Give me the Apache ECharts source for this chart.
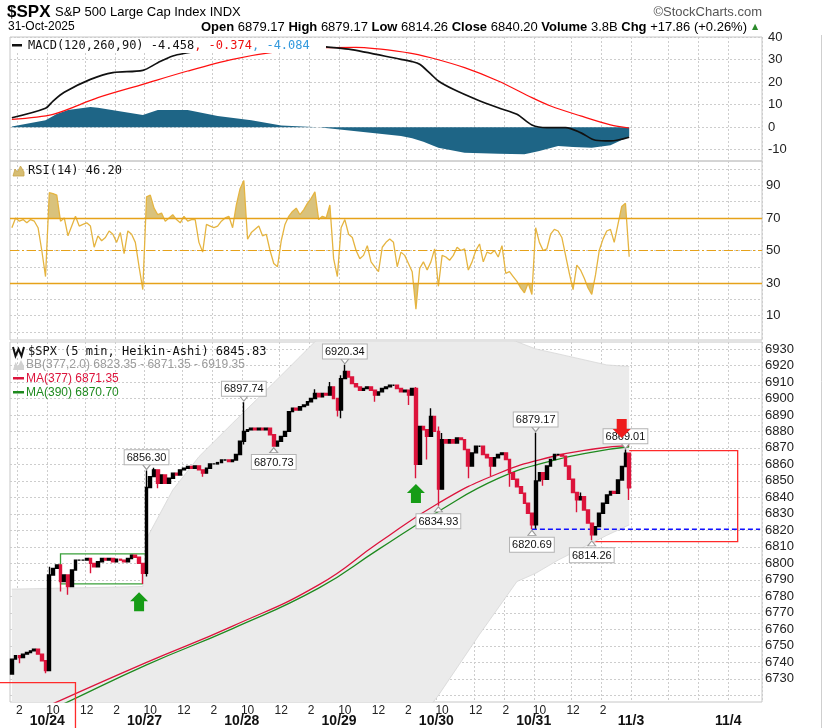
<!DOCTYPE html>
<html>
<head>
<meta charset="utf-8">
<title>$SPX S&amp;P 500 Large Cap Index</title>
<script src="https://cdn.jsdelivr.net/npm/echarts@6.0.0/dist/echarts.min.js"></script>
<style>
html,body{margin:0;padding:0;background:#fff;}
#chart{width:824px;height:728px;}
</style>
</head>
<body>
<div id="chart"></div>
<script>
// ================= DATA =================
const sessionDays = ['10/23','10/24','10/27','10/28','10/29','10/30','10/31','11/3','11/4'];
const axisStart = '10/23 13:30';
const axisEnd = '11/4 11:30';
const splitTimes = ['09:30','12:00','14:00'];
const timeTickLabels = {'09:45':'10','12:00':'12','14:00':'2'};

const priceTicks = [6720,6730,6740,6750,6760,6770,6780,6790,6800,6810,6820,6830,6840,6850,6860,6870,6880,6890,6900,6910,6920,6930];
const priceTickLabels = [6730,6740,6750,6760,6770,6780,6790,6800,6810,6820,6830,6840,6850,6860,6870,6880,6890,6900,6910,6920,6930];
const macdTicks = [-10,0,10,20,30,40];
const rsiTicks = [0,10,20,30,40,50,60,70,80,90,100];
const rsiTickLabels = [10,30,50,70,90];

// Heikin-Ashi 15-min closes
const firstOpen = 6733;
const close1023 = [6742,6744,6743,6745,6746,6747,6748,6745,6741,6735];
const close1024 = [6793,6797,6799,6789,6793,6786,6796,6802,6802,6802,6803,6800,6798,6801,6803,6802,6803,6801,6802.5,6802,6801,6803,6805,6803.7,6800,6794];
const close1027 = [6846,6852.6,6856.7,6848.6,6853.6,6848.6,6851.6,6854.7,6853.6,6856.7,6857.7,6858.7,6857.7,6859.1,6856.7,6854.7,6857.7,6860.3,6860.3,6861.1,6862.7,6862.7,6861.7,6862.7,6866,6874];
const close1028 = [6880,6881,6882,6881,6882,6881,6882,6878,6871.2,6874,6877,6880,6892,6894,6893,6895,6896,6898,6900,6903,6901,6903,6902,6907,6900,6893];
const close1029 = [6912,6916.3,6913,6909,6907,6905,6906,6907,6905,6902,6904,6906,6907,6908,6908,6906,6904,6905,6902,6906,6860,6883,6881,6877,6889,6880];
const close1030 = [6845,6875,6873,6875,6873,6876,6875,6869,6859,6867,6871,6871,6866,6864,6859,6864,6866,6867,6863,6855,6851,6846.5,6842.5,6836.5,6830.4,6823.4];
const close1031 = [6850,6855,6851,6859,6863,6866,6866,6865,6859,6851,6843,6838.5,6840.5,6832.4,6824.4,6817.3,6822.3,6830.4,6836.5,6841.5,6843.6,6842.5,6850.6,6858.7,6866.8,6845.83];

// wick extremes [time, low, high]
const wickExtremes = [
  ['10/23 14:00',6739.5,null],['10/23 15:45',6733.5,null],
  ['10/24 09:30',6735,6798],['10/24 10:15',6783,null],['10/24 10:45',6781,null],['10/24 12:15',6794,null],['10/24 15:45',6787.5,null],
  ['10/27 09:30',6792,6856.30],['10/27 10:00',null,6858],['10/27 10:15',6845.5,null],['10/27 13:15',6852.6,null],
  ['10/28 09:30',6872,6897.74],['10/28 11:30',6870.73,null],['10/28 14:15',null,6905.5],['10/28 15:15',null,6910],['10/28 15:45',6889,null],
  ['10/29 09:30',6888,6914],['10/29 09:45',null,6920.34],['10/29 11:45',6898,null],['10/29 14:00',6896,null],['10/29 14:30',6851.6,6907],['10/29 15:15',6863,null],['10/29 15:30',null,6894],
  ['10/30 09:30',6834.93,6883],['10/30 09:45',6848,6879],['10/30 11:30',6851.6,null],['10/30 13:00',6853,null],['10/30 14:15',6846.5,null],['10/30 15:45',6820.69,null],
  ['10/31 09:30',6821,6879.17],['10/31 10:00',6847,null],['10/31 12:15',6831,null],['10/31 12:30',null,6843],['10/31 13:15',6814.26,null],['10/31 15:30',null,6869.01],['10/31 15:45',6838.5,null]
];

// RSI(14) sampled every 15 min
const rsi1023 = [64,70,68,69,67,69,68,64,50,34];
const rsi1024 = [85.5,85,84,68,70,59,65,71,65,66,67,65,52,59,56,58,62,60,55,61,48,62,60,55,40,26];
const rsi1027 = [83,84,76,72,73,68,70,72,69,67,71,68,69,69,55,49,66,65,64,65,68,70,71,64,78,88];
const rsi1028 = [93,57,61,63,65,59,60,50,42,40,56,66,71,74,76,72,75,79,82,86,69,71,70,78,45,34];
const rsi1029 = [64,69,60,58,50,45,47,53,43,40,37,52,55,57,55,40,49,47,42,37,14,39,43,38,43,51];
const rsi1030 = [28,47,46,44,47,52,50,51,38,43,50,54,43,49,48,50,46,53,36,37,34,31,27,24,30,23];
const rsi1031 = [64,55,50,51,60,63,62,58,47,36,26,41,38,33,27,23,35,50,57,62,63,55,66,77,79,46.2];

// MACD(120,260,90)
const macdLine = [['10/23 13:30',4.2],['10/23 15:45',8.4],['10/24 09:45',11.6],['10/24 10:30',15.5],['10/24 12:15',21.2],['10/24 13:45',24.2],['10/24 15:45',25.2],['10/27 10:15',28.6],['10/27 11:15',31.6],['10/27 12:15',33.0],['10/27 14:15',35.5],['10/28 10:00',37.0],['10/28 12:00',37.2],['10/28 15:00',35.6],['10/29 10:00',34.6],['10/29 13:30',30.1],['10/29 14:15',29.1],['10/29 14:45',27.9],['10/29 15:30',23.5],['10/30 09:30',20.5],['10/30 10:30',16.8],['10/30 12:00',12.4],['10/30 13:30',8.6],['10/30 14:45',5.7],['10/30 15:45',1.0],['10/31 10:15',-0.2],['10/31 11:30',-0.2],['10/31 12:30',-2.4],['10/31 13:30',-5.8],['10/31 14:30',-6.1],['10/31 15:45',-4.458]];
const macdSignal = [['10/23 13:30',3.5],['10/24 09:45',5.7],['10/24 12:45',13.1],['10/24 15:45',19.0],['10/27 12:15',24.9],['10/27 15:15',30.1],['10/28 11:45',33.5],['10/28 15:00',35.3],['10/29 10:30',35.4],['10/29 14:00',33.0],['10/29 15:30',30.8],['10/30 11:15',26.4],['10/30 13:30',20.5],['10/30 15:45',13.1],['10/31 10:30',9.4],['10/31 12:30',5.0],['10/31 14:30',1.0],['10/31 15:45',-0.374]];
const macdHist = [['10/23 13:30',0.3],['10/23 15:45',3.1],['10/24 10:00',5.9],['10/24 10:45',7.6],['10/24 12:15',9.0],['10/24 12:45',8.6],['10/24 15:45',5.4],['10/27 10:15',7.6],['10/27 12:15',7.6],['10/27 14:15',5.0],['10/28 10:00',3.1],['10/28 12:00',0.8],['10/28 14:30',0.0],['10/28 15:45',-0.9],['10/29 13:30',-3.9],['10/29 14:15',-4.9],['10/29 15:00',-6.5],['10/30 09:30',-9.1],['10/30 11:15',-11.3],['10/30 13:30',-11.8],['10/30 15:15',-12.0],['10/31 09:45',-10.6],['10/31 11:00',-8.3],['10/31 12:00',-8.8],['10/31 13:15',-9.1],['10/31 14:30',-8.0],['10/31 15:45',-4.084]];

// Bollinger Bands (377, 2.0)
const bbTimes = ['10/23 13:30','10/24 15:45','10/27 09:30','10/27 11:15','10/27 13:00','10/27 15:15','10/28 11:00','10/28 13:15','10/28 14:15','10/29 09:30','10/29 12:45','10/30 09:30','10/30 12:15','10/30 14:45','10/31 09:30','10/31 11:00','10/31 14:15','10/31 15:45'];
const bbUpper = [6784.4,6786,6815,6844.5,6864.7,6885,6905,6925.3,6934.4,6945,6952,6950,6943,6934.4,6930,6927,6920.3,6919.35];
const bbLower = [6640,6692,6665,6651.5,6645,6639,6637,6633,6636,6645,6682,6720,6757,6789,6794,6802,6817,6823.35];

// Moving averages
const maTimes = ['10/23 13:30','10/24 10:15','10/27 09:30','10/27 15:15','10/28 14:30','10/29 12:00','10/30 09:30','10/30 13:30','10/31 10:30','10/31 13:30','10/31 15:45'];
const ma377 = [6704,6717,6740,6762,6787,6812.5,6836.5,6854.5,6864.5,6869.5,6871.35];
const ma390 = [6701,6714,6738.5,6760.5,6785,6808.5,6831.5,6851.5,6862,6867.8,6870.70];

// Annotations
const priceLabels = [
  ['10/27 09:30',6856.30,'up'],['10/28 09:30',6897.74,'up'],['10/28 11:30',6870.73,'down'],
  ['10/29 09:45',6920.34,'up'],['10/30 09:30',6834.93,'down'],['10/31 09:30',6879.17,'up'],
  ['10/30 15:45',6820.69,'down'],['10/31 13:15',6814.26,'down'],['10/31 15:30',6869.01,'up']
];
const signalArrows = [['10/24 15:30',6776.7,'buy'],['10/29 14:30',6842.4,'buy'],['10/31 15:15',6881.8,'sell']];
const boxes = [
  ['10/24 10:15',6805.8,'10/27 11:00',6787.6,'#3aa03a'],
  ['10/28 15:45',6920.3,'10/30 10:00',6852.6,'#3aa03a'],
  ['10/31 12:45',6868.4,'11/4 10:00',6813.2,'#ff2a2a']
];
const cornerBox = ['10/24 11:15',6727.8];
const supportLevel = 6820.69;
const supportFrom = '10/30 15:45';

// ================= BUILD =================
const times = [];
for (let m = 570; m < 960; m += 15) times.push(String(Math.floor(m/60)).padStart(2,'0') + ':' + String(m%60).padStart(2,'0'));
const allSlots = [];
sessionDays.forEach(d => times.forEach(t => allSlots.push(d + ' ' + t)));
const categories = allSlots.slice(allSlots.indexOf(axisStart), allSlots.indexOf(axisEnd) + 1);
const N = categories.length;
const idx = n => categories.indexOf(n);
const dayOf = v => v.split(' ')[0];
const timeOf = v => v.split(' ')[1];

const priceDays = [['10/23 13:30',close1023],['10/24 09:30',close1024],['10/27 09:30',close1027],['10/28 09:30',close1028],['10/29 09:30',close1029],['10/30 09:30',close1030],['10/31 09:30',close1031]];
const rsiDays = [['10/23 13:30',rsi1023],['10/24 09:30',rsi1024],['10/27 09:30',rsi1027],['10/28 09:30',rsi1028],['10/29 09:30',rsi1029],['10/30 09:30',rsi1030],['10/31 09:30',rsi1031]];
const tradedDays = priceDays.map(p => dayOf(p[0]));

const candles = [];
let prevClose = firstOpen;
priceDays.forEach(([start, arr]) => {
  const i0 = idx(start);
  arr.forEach((c, k) => {
    candles[i0 + k] = [prevClose, c, Math.min(prevClose, c), Math.max(prevClose, c)];
    prevClose = c;
  });
});
wickExtremes.forEach(([t, lo, hi]) => {
  const c = candles[idx(t)];
  if (lo != null) c[2] = Math.min(c[2], lo);
  if (hi != null) c[3] = Math.max(c[3], hi);
});

const rsiFull = new Array(N).fill('-');
rsiDays.forEach(([start, arr]) => { const i0 = idx(start); arr.forEach((v, k) => { rsiFull[i0 + k] = v; }); });

function fromPairs(pairs) { const a = new Array(N).fill('-'); pairs.forEach(p => { a[idx(p[0])] = p[1]; }); return a; }
function fromTimes(ts, vals) { const a = new Array(N).fill('-'); ts.forEach((t, i) => { a[idx(t)] = vals[i]; }); return a; }

// ================= CHART =================
const L = 10, R = 62;
const gridLine = {color:'#cdcdcd', type:[2,2], width:1};
const axisFont = {fontSize:13, fontFamily:'Liberation Sans', color:'#222', formatter: v => String(v)};

function baseX(gridIndex, withSplit) {
  return {
    type:'category', gridIndex, data:categories, boundaryGap:true, position:'bottom',
    axisLine:{show:false}, axisTick:{show:false}, axisLabel:{show:false},
    splitLine:{show:withSplit, interval:(i, v) => splitTimes.includes(timeOf(v)), lineStyle:gridLine}
  };
}

const xTime = baseX(2, true);
xTime.axisLabel = {
  show:true, interval:(i, v) => tradedDays.includes(dayOf(v)) && (timeOf(v) in timeTickLabels),
  formatter:v => timeTickLabels[timeOf(v)], fontSize:12, fontFamily:'Liberation Sans', color:'#222', margin:3
};
const xDate = baseX(2, false);
xDate.axisLabel = {
  show:true, interval:(i, v) => timeOf(v) === '09:30',
  formatter:v => dayOf(v), fontSize:14, fontWeight:'bold', fontFamily:'Liberation Sans', color:'#111',
  margin:12, padding:[0,4,0,0]
};

const rsiH = 179, rsiTop = 161, rsiPx = rsiH / 110;

const upArrow = 'path://M9,0L18,9L14,9L14,19L4,19L4,9L0,9Z';
const downArrow = 'path://M4,0L14,0L14,10L18,10L9,19L0,10L4,10Z';
const labelPoints = priceLabels.map(([t, v, side]) => ({
  coord:[idx(t), v],
  symbol:'triangle', symbolSize:[8,5], symbolRotate: side === 'up' ? 180 : 0,
  symbolOffset:[0, side === 'up' ? -3.5 : 3.5],
  itemStyle:{color:'#fff', borderColor:'#9a9a9a', borderWidth:1},
  label:{show:true, position: side === 'up' ? 'top' : 'bottom', distance: side === 'up' ? 0 : 2,
    formatter:v.toFixed(2), color:'#111', fontSize:11, fontFamily:'Liberation Sans',
    backgroundColor:'#fff', borderColor:'#b4b4b4', borderWidth:1, padding:[2,2,1,2], lineHeight:11}
}));
const supportData = new Array(N).fill('-');
supportData[idx(supportFrom)] = supportLevel;
supportData[N - 1] = supportLevel;

const option = {
  animation:false,
  backgroundColor:'#fff',
  grid:[
    {left:L, right:R, top:37, height:124, show:true, borderColor:'#c6c6c6', borderWidth:1},
    {left:L, right:R, top:rsiTop, height:rsiH, show:true, borderColor:'#c6c6c6', borderWidth:1},
    {left:L, right:R, top:342, height:360, show:true, borderColor:'#c6c6c6', borderWidth:1},
    {left:L, right:R, top:rsiTop, height:35 * rsiPx, show:false},
    {left:L, right:R, top:rsiTop + 75 * rsiPx, height:35 * rsiPx, show:false}
  ],
  xAxis:[
    baseX(0, true), baseX(1, true), xTime, xDate,
    Object.assign(baseX(3, false), {show:false}), Object.assign(baseX(4, false), {show:false})
  ],
  yAxis:[
    {type:'value', gridIndex:0, position:'right', min:-15, max:40, axisLine:{show:false},
     axisTick:{show:false, customValues:macdTicks}, axisLabel:Object.assign({customValues:macdTicks, margin:6}, axisFont),
     splitLine:{show:true, lineStyle:gridLine}},
    {type:'value', gridIndex:1, position:'right', min:-5, max:105, axisLine:{show:false},
     axisTick:{show:false, customValues:rsiTicks}, axisLabel:Object.assign({customValues:rsiTickLabels, margin:4}, axisFont),
     splitLine:{show:true, lineStyle:gridLine}},
    {type:'value', gridIndex:2, position:'right', min:6716, max:6934.2, axisLine:{show:false},
     axisTick:{show:false, customValues:priceTicks}, axisLabel:Object.assign({customValues:priceTickLabels, margin:3}, axisFont),
     splitLine:{show:true, lineStyle:gridLine}},
    {type:'value', gridIndex:3, min:70, max:105, show:false},
    {type:'value', gridIndex:4, min:-5, max:30, show:false}
  ],
  series:[
    {type:'line', name:'hist', xAxisIndex:0, yAxisIndex:0, data:fromPairs(macdHist), connectNulls:true, symbol:'none',
     lineStyle:{width:0}, areaStyle:{color:'#1e6586', opacity:1}},
    {type:'line', name:'signal', xAxisIndex:0, yAxisIndex:0, data:fromPairs(macdSignal), connectNulls:true, symbol:'none', smooth:0.3,
     lineStyle:{color:'#ff1010', width:1.2}},
    {type:'line', name:'macd', xAxisIndex:0, yAxisIndex:0, data:fromPairs(macdLine), connectNulls:true, symbol:'none', smooth:0.3,
     lineStyle:{color:'#111', width:1.7}},
    {type:'line', name:'rsiHi', xAxisIndex:4, yAxisIndex:3, data:rsiFull, symbol:'none', lineStyle:{width:0},
     areaStyle:{color:'#d9c27c', opacity:1, origin:'start'}},
    {type:'line', name:'rsiLo', xAxisIndex:5, yAxisIndex:4, data:rsiFull, symbol:'none', lineStyle:{width:0},
     areaStyle:{color:'#d9c27c', opacity:1, origin:'end'}},
    {type:'line', name:'rsi', xAxisIndex:1, yAxisIndex:1, data:rsiFull, symbol:'none',
     lineStyle:{color:'#e5b440', width:1.3},
     markLine:{silent:true, symbol:'none', label:{show:false},
       data:[
         {yAxis:70, lineStyle:{color:'#e6a21a', width:1.3, type:'solid'}},
         {yAxis:50, lineStyle:{color:'#e6a21a', width:1.2, type:[9,3,2,3]}},
         {yAxis:30, lineStyle:{color:'#e6a21a', width:1.3, type:'solid'}}
       ]}},
    {type:'custom', name:'BB band', xAxisIndex:2, yAxisIndex:2, data:[0], z:1, silent:true, clip:true,
     renderItem:(params, api) => {
       const up = bbTimes.map((t, i) => api.coord([idx(t), bbUpper[i]]));
       const lo = bbTimes.map((t, i) => api.coord([idx(t), bbLower[i]])).reverse();
       const cs = params.coordSys;
       return {type:'polygon', shape:{points:up.concat(lo)}, style:{fill:'#ebebeb'},
         clipPath:{type:'rect', shape:{x:cs.x, y:cs.y, width:cs.width, height:cs.height}}};
     }},
    {type:'line', name:'bbUpper', xAxisIndex:2, yAxisIndex:2, z:2, data:fromTimes(bbTimes, bbUpper), connectNulls:true, symbol:'none',
     lineStyle:{color:'#d6d6d6', width:0.8}},
    {type:'line', name:'bbLower', xAxisIndex:2, yAxisIndex:2, z:2, data:fromTimes(bbTimes, bbLower), connectNulls:true, symbol:'none',
     lineStyle:{color:'#d6d6d6', width:0.8}},
    {type:'line', name:'MA390', xAxisIndex:2, yAxisIndex:2, z:3, data:fromTimes(maTimes, ma390), connectNulls:true, symbol:'none', smooth:true,
     lineStyle:{color:'#1f8a1f', width:1.3}},
    {type:'line', name:'MA377', xAxisIndex:2, yAxisIndex:2, z:3, data:fromTimes(maTimes, ma377), connectNulls:true, symbol:'none', smooth:true,
     lineStyle:{color:'#dc143c', width:1.3}},
    {type:'line', name:'support', xAxisIndex:2, yAxisIndex:2, z:4, data:supportData, connectNulls:true, symbol:'none', silent:true,
     lineStyle:{color:'#1010ff', width:1.4, type:[5,3]}},
    {type:'candlestick', name:'$SPX', xAxisIndex:2, yAxisIndex:2, z:5, data:candles, barWidth:3.2,
     itemStyle:{color:'#000', color0:'#dc143c', borderColor:'#000', borderColor0:'#dc143c', borderWidth:1.4},
     markPoint:{silent:true, data:labelPoints},
     markArea:{silent:true, data:boxes.map(([t0, v0, t1, v1, c]) => [
       {coord:[idx(t0), v0], itemStyle:{color:'rgba(0,0,0,0)', borderColor:c, borderWidth:1.3}},
       {coord:[idx(t1), v1]}])}},
    {type:'scatter', name:'signals', xAxisIndex:2, yAxisIndex:2, z:8, silent:true,
     data:signalArrows.map(([t, v, kind]) => ({value:[idx(t), v], symbol: kind === 'sell' ? downArrow : upArrow,
       symbolSize:[18,19], itemStyle:{color: kind === 'sell' ? '#ee1c1c' : '#169c16', opacity:1}}))}
  ]
};

const chart = echarts.init(document.getElementById('chart'));
chart.setOption(option);

// ----- texts & decorations -----
const F = 'Liberation Sans', M = 'DejaVu Sans Mono';
const corner = chart.convertToPixel({xAxisIndex:2, yAxisIndex:2}, [idx(cornerBox[0]), cornerBox[1]]);
function txt(text, x, y, font, fill, align) {
  return {type:'text', z:100, style:{text, x, y, font, fill, align:align || 'left', verticalAlign:'middle', textAlign:align || 'left', textVerticalAlign:'middle'}};
}
const graphics = [
  txt('$SPX', 7, 12, 'bold 17px ' + F, '#000'),
  txt('S&P 500 Large Cap Index INDX', 55, 12, '13px ' + F, '#000'),
  txt('\u00a9StockCharts.com', 762, 12, '13px ' + F, '#555', 'right'),
  txt('31-Oct-2025', 8, 27, '12px ' + F, '#000'),
  {type:'text', z:100, style:{
    text:'{b|Open} 6879.17 {b|High} 6879.17 {b|Low} 6814.26 {b|Close} 6840.20 {b|Volume} 3.8B {b|Chg} +17.86 (+0.26%)',
    x:747, y:27, font:'13px ' + F, fill:'#000', align:'right', verticalAlign:'middle', textAlign:'right', textVerticalAlign:'middle',
    rich:{b:{font:'bold 13px ' + F, fill:'#000'}}}},
  txt('\u25B2', 755, 27, '8px DejaVu Sans', '#2a8a2a', 'center'),
  // MACD legend
  {type:'rect', z:99, shape:{x:11, y:38, width:315, height:15}, style:{fill:'#fff'}},
  {type:'rect', z:100, shape:{x:12, y:44, width:10, height:2.5}, style:{fill:'#111'}},
  {type:'text', z:100, style:{text:'{k|MACD(120,260,90) -4.458}{r|, -0.374}{c|, -4.084}', x:28, y:45.5, font:'12px ' + M,
    verticalAlign:'middle', textVerticalAlign:'middle',
    rich:{k:{fill:'#111', font:'12px ' + M}, r:{fill:'#ee1111', font:'12px ' + M}, c:{fill:'#3399dd', font:'12px ' + M}}}},
  // RSI legend
  {type:'polygon', z:100, shape:{points:[[13,176],[15,169],[17.5,172],[20.5,166],[24,172],[24,176]]}, style:{fill:'#d6bd72', stroke:'#c9a446', lineWidth:0.8}},
  txt('RSI(14) 46.20', 28, 171, '12px ' + M, '#111'),
  // price legend
  {type:'polyline', z:100, shape:{points:[[13,347],[15.5,356],[18.5,349],[21.5,356],[24,347]]}, style:{stroke:'#111', lineWidth:2, fill:null}},
  txt('$SPX (5 min, Heikin-Ashi) 6845.83', 28, 351.5, '12px ' + M, '#111'),
  {type:'polygon', z:100, shape:{points:[[13,370],[15.5,362],[18,366],[21,360],[24,366],[24,370]]}, style:{fill:'#d2d2d2'}},
  txt('BB(377,2.0) 6823.35 - 6871.35 - 6919.35', 26, 365, '12px ' + F, '#9c9c9c'),
  {type:'rect', z:100, shape:{x:13, y:377, width:11, height:2.5}, style:{fill:'#dc143c'}},
  txt('MA(377) 6871.35', 26, 378.5, '12px ' + F, '#dc143c'),
  {type:'rect', z:100, shape:{x:13, y:391, width:11, height:2.5}, style:{fill:'#1f8a1f'}},
  txt('MA(390) 6870.70', 26, 392.5, '12px ' + F, '#1f8a1f'),
  // outer frame line on the right
  {type:'line', z:100, shape:{x1:821.5, y1:35, x2:821.5, y2:728}, style:{stroke:'#cfcfcf', lineWidth:1}},
  // red box running off the lower-left corner
  {type:'rect', z:100, shape:{x:-5, y:corner[1], width:corner[0] + 5, height:800}, style:{fill:null, stroke:'#ff2a2a', lineWidth:1.3}}
];
chart.setOption({graphic:graphics});
</script>
</body>
</html>
